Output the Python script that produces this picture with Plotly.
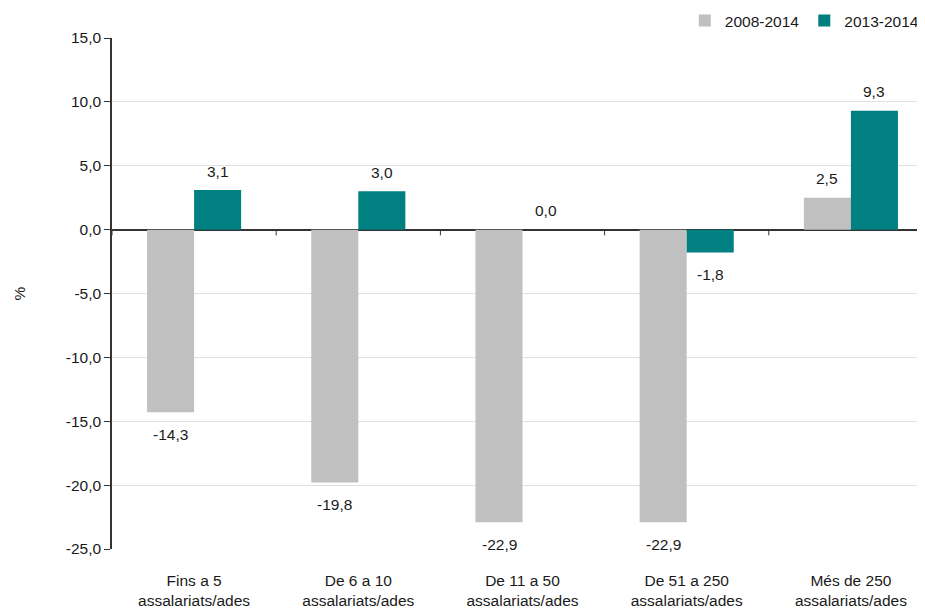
import plotly.graph_objects as go

categories = ["Fins a 5<br>assalariats/ades", "De 6 a 10<br>assalariats/ades",
              "De 11 a 50<br>assalariats/ades", "De 51 a 250<br>assalariats/ades",
              "Més de 250<br>assalariats/ades"]
v_2008_2014 = [-14.3, -19.8, -22.9, -22.9, 2.5]
v_2013_2014 = [3.1, 3.0, 0.0, -1.8, 9.3]
y_ticks = [15, 10, 5, 0, -5, -10, -15, -20, -25]

FONT = "Liberation Sans Narrow, Arial Narrow, Liberation Sans, Arial"
FS = 15.5
GREY = "#c0c0c0"
TEAL = "#008080"


def fmt(v):
    return f"{v:.1f}".replace(".", ",")


fig = go.Figure()
fig.add_trace(go.Bar(
    x=categories, y=v_2008_2014, name="2008-2014",
    marker=dict(color=GREY, line=dict(width=0)),
))
fig.add_trace(go.Bar(
    x=categories, y=v_2013_2014, name="2013-2014",
    marker=dict(color=TEAL, line=dict(width=0)),
))

# etiquetes de valor (una mica separades de la barra, com a l'original)
annotations = []
for vals, dx in ((v_2008_2014, -23.5), (v_2013_2014, 23.5)):
    for cat, v in zip(categories, vals):
        annotations.append(dict(
            x=cat, y=v, xref="x", yref="y", text=fmt(v), showarrow=False,
            xshift=dx, yshift=19 if v >= 0 else -22, yanchor="middle",
            font=dict(size=FS, color="#1a1a1a", family=FONT),
        ))

# petites marques entre categories sobre la línia zero
shapes = []
for i in range(len(categories) + 1):
    xb = i - 0.5
    shapes.append(dict(type="line", xref="x", yref="y", x0=xb, x1=xb, y0=0, y1=-0.45,
                       line=dict(color="#333333", width=1)))

fig.update_layout(
    width=925, height=612,
    paper_bgcolor="white", plot_bgcolor="white",
    font=dict(family=FONT, size=FS, color="#1a1a1a"),
    margin=dict(l=104, r=0, t=30, b=71, autoexpand=False),
    barmode="group", bargap=0.427, bargroupgap=0,
    showlegend=True,
    legend=dict(orientation="h", x=0.99, xanchor="right", y=1.0, yanchor="bottom",
                font=dict(size=FS, family=FONT), traceorder="normal",
                itemwidth=30, itemsizing="constant"),
    xaxis=dict(range=[-0.5, 4.5], showgrid=False, zeroline=False, showline=False,
               ticks="", ticklabelstandoff=20, tickfont=dict(size=FS, family=FONT)),
    yaxis=dict(range=[-25, 15], tickvals=y_ticks, ticktext=[fmt(v) for v in y_ticks],
               showgrid=True, gridcolor="#e0e0e0", gridwidth=1,
               zeroline=True, zerolinecolor="#333333", zerolinewidth=1.5,
               showline=True, linecolor="#333333", linewidth=1.5,
               ticks="outside", ticklen=6, tickcolor="#333333",
               tickfont=dict(size=FS, family=FONT),
               title=dict(text="%", font=dict(size=FS, family=FONT), standoff=36)),
    shapes=shapes,
    annotations=annotations,
)

fig.write_html("out.html")
